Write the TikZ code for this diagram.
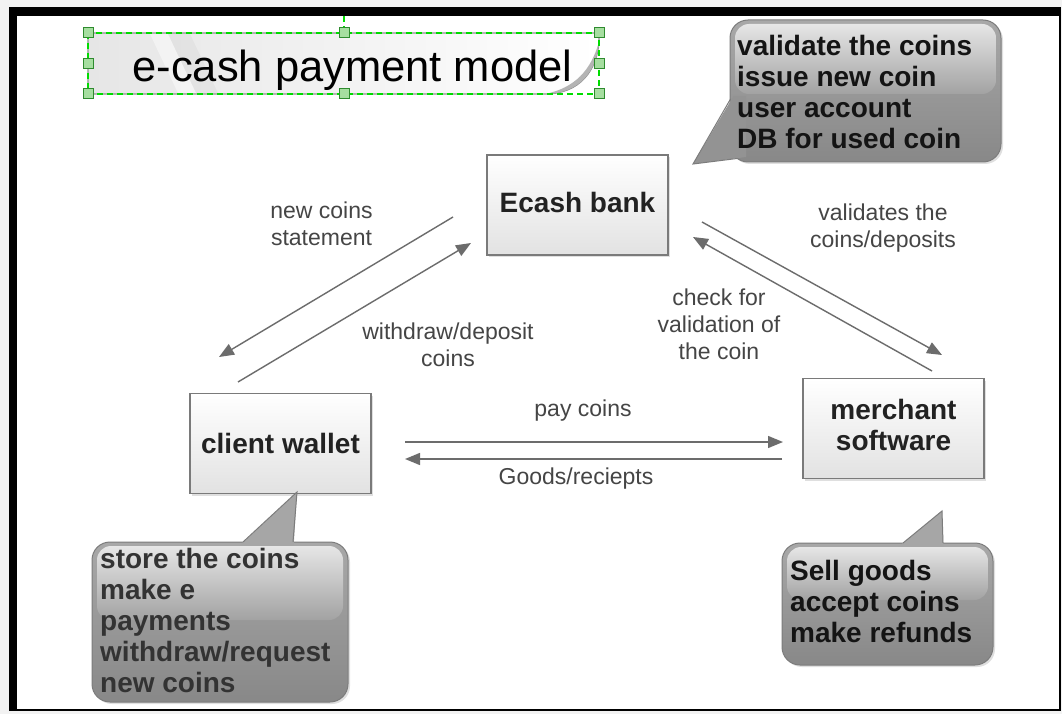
\documentclass[tikz,border=0pt]{standalone}
\usepackage{fontspec}
\setmainfont{Liberation Sans}
\usetikzlibrary{arrows.meta,shadows}
\definecolor{arrgray}{HTML}{6C6C6C}
\definecolor{boxedge}{HTML}{7A7A7A}
\definecolor{boxbot}{HTML}{E2E2E2}
\definecolor{boxtext}{HTML}{222222}
\definecolor{lbltext}{HTML}{454545}
\definecolor{calltop}{HTML}{A8A8A8}
\definecolor{callbot}{HTML}{888888}
\definecolor{hltop}{HTML}{E6E6E6}
\definecolor{hlbot}{HTML}{A2A2A2}
\definecolor{calledge}{HTML}{7C7C7C}
\definecolor{tailfill}{HTML}{939393}
\definecolor{tailfilltop}{HTML}{A6A6A6}
\definecolor{selgreen}{HTML}{00DD00}
\definecolor{handlefill}{HTML}{A6DEA0}
\definecolor{handleedge}{HTML}{2E8B2E}
\definecolor{framebg}{HTML}{F2F2F2}
\definecolor{titleleft}{HTML}{E6E6E6}
\definecolor{titleedge}{HTML}{909090}
\definecolor{curlgray}{HTML}{B4B4B4}
\newcommand\bxfont{\fontsize{28}{31}\selectfont\bfseries}
\newcommand\lbfont{\fontsize{23}{27}\selectfont}
\newcommand\ttlfont{\fontsize{43.5}{50}\selectfont}
\tikzset{
  arr/.style={draw=arrgray, line width=1.4pt, -{Triangle[length=15pt,width=12pt]}},
  bx/.style={draw=boxedge, line width=1.3pt, top color=white, bottom color=boxbot,
    minimum width=181pt, minimum height=100pt, inner sep=0pt, align=center,
    font=\bxfont, text=boxtext,
    drop shadow={opacity=0.25, shadow xshift=2pt, shadow yshift=-2pt}},
  lbl/.style={font=\lbfont, text=lbltext, align=center, inner sep=0pt},
  callbox/.style={draw=calledge, line width=1pt, top color=calltop, bottom color=callbot,
    rounded corners=18pt,
    drop shadow={opacity=0.25, shadow xshift=2pt, shadow yshift=-2pt}},
  hilite/.style={top color=hltop, bottom color=hlbot, rounded corners=14pt},
  tailedge/.style={draw=calledge, line width=1pt},
  calltext/.style={font=\bxfont, text=black!92, align=left, inner sep=0pt, anchor=north west},
  handle/.style={fill=handlefill, draw=handleedge, line width=1pt},
  seldash/.style={draw=selgreen, line width=1.2pt, dash pattern=on 6pt off 4pt}
}
\begin{document}
\begin{tikzpicture}[x=1pt,y=-1pt]
\useasboundingbox (0,0) rectangle (1062,714);
% frame
\fill[framebg] (0,0) rectangle (1062,714);
\fill[black] (9,7) rectangle (1061,711);
\fill[white] (17,16) rectangle (1059,709);

% title box with curled corner
\draw[draw=titleedge, line width=1.2pt, left color=titleleft, right color=white]
  (88,33) -- (599,33) -- (599,42) .. controls (597,70) and (580,94) .. (545,94) -- (88,94) -- cycle;
\fill[white, opacity=0.45] (150,34) -- (168,34) -- (196,93) -- (178,93) -- cycle;
\fill[black, opacity=0.03] (168,34) -- (190,34) -- (218,93) -- (196,93) -- cycle;
\fill[curlgray] (599,42) .. controls (597,70) and (580,94) .. (545,94)
  .. controls (575,88) and (591,70) .. (599,42) -- cycle;
\node[font=\ttlfont, anchor=base, inner sep=0pt] (title) at (352.5,82) {e-cash payment model};
% selection marks
\draw[seldash] (88,33) rectangle (599,94);
\draw[seldash] (344,16) -- (344,33);
\foreach \hx/\hy in {88/33,344/33,599/33,88/64,599/64,88/94,344/94,599/94}
  \draw[handle] (\hx-5,\hy-5) rectangle (\hx+5,\hy+5);

% main boxes
\node[bx, text depth=5pt] (bank) at (577.5,205) {Ecash bank};
\node[bx] (wallet) at (280.5,443.5) {client wallet};
\node[bx, text depth=8pt] (merch) at (893.5,428.5) {merchant\\software};

% connectors
\coordinate (a1s) at (453,217); \coordinate (a1e) at (219,357);
\coordinate (a2s) at (238,382); \coordinate (a2e) at (471,243);
\coordinate (a3s) at (702,222); \coordinate (a3e) at (942,355);
\coordinate (a4s) at (932,371); \coordinate (a4e) at (693,237);
\coordinate (a5s) at (405,442); \coordinate (a5e) at (783,442);
\coordinate (a6s) at (782,459); \coordinate (a6e) at (405,459);
\draw[arr] (a1s) -- (a1e);
\draw[arr] (a2s) -- (a2e);
\draw[arr] (a3s) -- (a3e);
\draw[arr] (a4s) -- (a4e);
\draw[arr] (a5s) -- (a5e);
\draw[arr] (a6s) -- (a6e);

% labels
\node[lbl] (l1) at (321.5,224) {new coins\\statement};
\node[lbl] (l2) at (448,345) {withdraw/deposit\\coins};
\node[lbl] (l3) at (883,228.5) {validates the\\coins/deposits};
\node[lbl] (l4) at (719,324.6) {check for\\validation of\\the coin};
\node[lbl] (l5) at (583,411) {pay coins};
\node[lbl] (l6) at (576,479) {Goods/reciepts};

% callout 1 (bank)
\path[callbox] (730,20) rectangle (1001,162);
\fill[tailfill] (733.5,96) -- (693,164) -- (746,157) -- (746,96) -- cycle;
\path[hilite] (735,24) rectangle (996,94);
\draw[tailedge] (730.5,99) -- (693,164) -- (737,158.5);
\node[calltext] (c1) at (737,35) {validate the coins\\issue new coin\\user account\\DB for used coin};

% callout 2 (wallet)
\path[callbox] (92,542) rectangle (348,702);
\fill[tailfilltop] (297,492) -- (237,548) -- (293.5,548) -- cycle;
\path[hilite] (97,546) rectangle (343,620);
\draw[tailedge] (243,542) -- (297,492) -- (293,542);
\node[calltext, text=black!80] (c2) at (100,548) {store the coins\\make e\\payments\\withdraw/request\\new coins};

% callout 3 (merchant)
\path[callbox] (782,543) rectangle (993,665);
\fill[tailfilltop] (942,511) -- (896,549) -- (943.5,549) -- cycle;
\path[hilite] (787,547) rectangle (988,600);
\draw[tailedge] (903,543) -- (942,511) -- (943,543);
\node[calltext] (c3) at (790,560) {Sell goods\\accept coins\\make refunds};
\end{tikzpicture}
\end{document}
